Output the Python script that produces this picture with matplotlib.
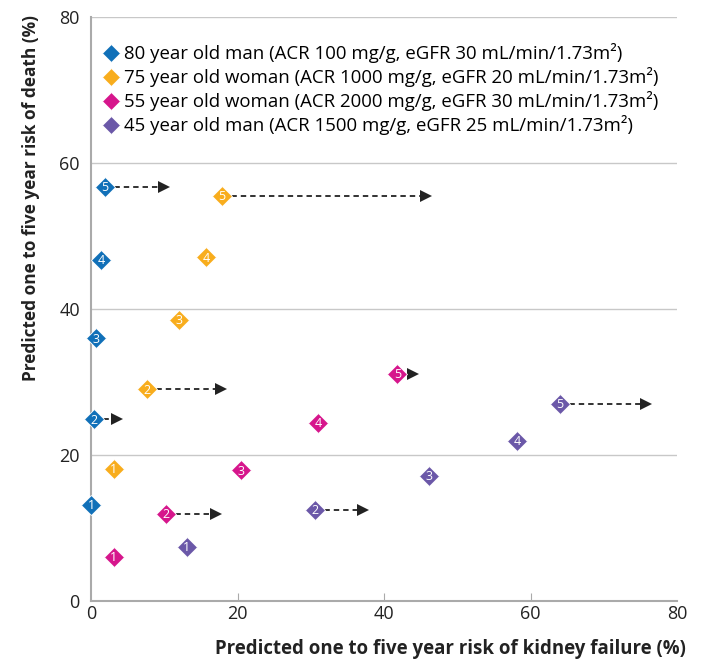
import matplotlib
matplotlib.use("Agg")
import matplotlib.pyplot as plt

plt.rcParams['font.family'] = ['Open Sans', 'DejaVu Sans']

# series: label, colour
labels = [
    "80 year old man (ACR 100 mg/g, eGFR 30 mL/min/1.73m²)",
    "75 year old woman (ACR 1000 mg/g, eGFR 20 mL/min/1.73m²)",
    "55 year old woman (ACR 2000 mg/g, eGFR 30 mL/min/1.73m²)",
    "45 year old man (ACR 1500 mg/g, eGFR 25 mL/min/1.73m²)",
]
colors = ["#1170b8", "#f8ad1d", "#d6168c", "#6b58a8"]

# predicted kidney failure risk (x) and death risk (y), years 1-5
kidney = [
    [0.0, 0.4, 0.7, 1.4, 1.9],
    [3.1, 7.6, 12.0, 15.7, 17.9],
    [3.1, 10.2, 20.5, 31.0, 41.8],
    [13.1, 30.6, 46.1, 58.2, 64.0],
]
death = [
    [13.2, 24.9, 36.0, 46.7, 56.8],
    [18.1, 29.0, 38.5, 47.1, 55.5],
    [6.0, 11.9, 17.9, 24.4, 31.1],
    [7.4, 12.5, 17.1, 21.9, 27.0],
]
# arrows: (series, year index, x end)
arrows = [
    (0, 1, 4.1), (0, 4, 10.5),
    (1, 1, 18.4), (1, 4, 46.3),
    (2, 1, 17.6), (2, 4, 44.6),
    (3, 1, 37.7), (3, 4, 76.3),
]

fig = plt.figure(figsize=(7.02, 6.61), dpi=100)
ax = fig.add_axes([0.1296, 0.0908, 0.835, 0.883])

for s, i, xend in arrows:
    y = death[s][i]
    ax.plot([kidney[s][i], xend - 0.8], [y, y], linestyle=(0, (3, 2.2)),
            color="#222222", lw=1.3, zorder=2)
    ax.plot(xend - 0.6, y, marker=">", color="#222222", ms=8, mew=0, zorder=2)

for s in range(4):
    ax.plot(kidney[s], death[s], linestyle="none", marker="D", ms=10.5,
            color=colors[s], mec="white", mew=0.6, label=labels[s], zorder=3,
            clip_on=False)
    for k, (x, y) in enumerate(zip(kidney[s], death[s])):
        ax.text(x, y - 0.1, str(k + 1), color="white", fontsize=9,
                ha="center", va="center", zorder=4)

ax.set_xlim(0, 80)
ax.set_ylim(0, 80)
ax.set_xticks([0, 20, 40, 60, 80])
ax.set_yticks([0, 20, 40, 60, 80])
ax.tick_params(axis="x", direction="in", length=6, color="#aaaaaa",
               labelsize=13, pad=3, labelcolor="#222222")
ax.tick_params(axis="y", length=0, labelsize=13, pad=8, labelcolor="#222222")
for t in ax.get_xticklines()[0::2][::4]:
    t.set_visible(False)

ax.grid(axis="y", color="#c8c8c8", lw=1)
for sp in ["top", "right"]:
    ax.spines[sp].set_visible(False)
for sp in ["left", "bottom"]:
    ax.spines[sp].set_color("#aaaaaa")
    ax.spines[sp].set_linewidth(1.5)

ax.set_xlabel("Predicted one to five year risk of kidney failure (%)",
              fontsize=13.4, fontweight="bold", color="#222222")
ax.xaxis.set_label_coords(1.015, -0.083)
ax.xaxis.label.set_ha("right")
ax.xaxis.label.set_va("center")
ax.set_ylabel("Predicted one to five year risk of death (%)",
              fontsize=12.4, fontweight="bold", color="#222222")
ax.yaxis.set_label_coords(-0.117, 1.004)
ax.yaxis.label.set_va("top")
ax.yaxis.label.set_ha("right")

ax.legend(loc="upper left", bbox_to_anchor=(-0.005, 0.975), frameon=False,
          fontsize=13.4, handletextpad=0.05, labelspacing=0.22,
          handlelength=1.3, markerscale=0.9, borderaxespad=0.2)

fig.savefig("out.png", dpi=100)
